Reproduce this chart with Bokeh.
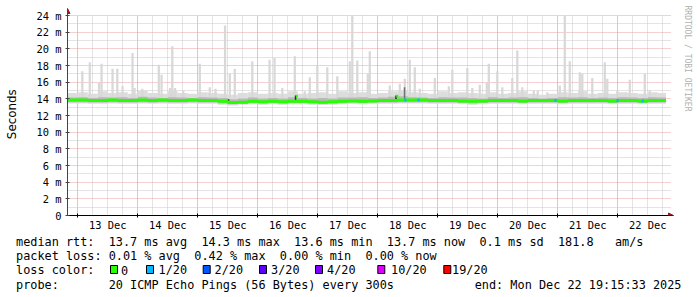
import numpy as np
import pandas as pd
from bokeh.plotting import figure
from bokeh.layouts import column
from bokeh.models import Range1d, FixedTicker, Label, Arrow, NormalHead, Grid
from bokeh.core.properties import value
from bokeh.embed import file_html
from bokeh.resources import INLINE

# ---------------- data (time in hours relative to 2025-12-13 00:00) ----------------
view_start_h = -4.12
view_end_h = 235.88
data_end_h = 235.26   # Mon Dec 22 19:15:33

bin_edges_h = [-4.12] + list(range(0, 233, 4)) + [data_end_h]

median_ms = [13.85, 13.85, 13.8, 13.8, 13.85, 13.8, 13.8, 13.85, 13.8, 13.85, 13.8, 13.8, 13.85, 13.8, 13.8,
             13.7, 13.55, 13.6,
             13.7, 13.65, 13.7, 13.65, 13.7, 13.7, 13.65, 13.6, 13.65, 13.7,
             13.75, 13.7, 13.75, 13.8, 13.8, 13.85,
             13.85, 13.85, 13.8, 13.8, 13.8,
             13.75, 13.7, 13.75,
             13.8, 13.8, 13.8, 13.75, 13.8, 13.8, 13.8, 13.75, 13.8, 13.8, 13.8, 13.8, 13.75, 13.8, 13.8, 13.75, 13.8, 13.8]

smoke_hi_ms = [14.7, 14.8, 14.6, 14.9, 14.7, 14.8, 14.6, 15.0, 14.7, 14.6, 14.9, 14.7, 14.6, 14.8, 14.7,
               14.6, 14.5, 14.7,
               14.8, 14.6, 14.7, 14.6, 14.9, 14.6, 14.7, 14.8, 14.6, 14.9,
               14.7, 14.8, 14.6, 14.7, 14.9, 15.0,
               14.8, 14.7, 14.6, 14.9, 14.7,
               14.8, 14.7, 14.6,
               14.8, 14.6, 14.7, 14.9, 14.6, 14.5, 14.6, 14.8, 14.7, 14.9, 14.6, 14.7, 14.6, 14.8, 14.7, 14.6, 14.8, 14.7]

smoke_lo_ms = [13.45, 13.45, 13.4, 13.4, 13.45, 13.4, 13.4, 13.45, 13.4, 13.45, 13.4, 13.4, 13.45, 13.4, 13.4,
               13.3, 13.2, 13.3,
               13.35, 13.3, 13.35, 13.3, 13.35, 13.35, 13.3, 13.25, 13.3, 13.35,
               13.4, 13.35, 13.4, 13.4, 13.4, 13.45,
               13.45, 13.45, 13.4, 13.4, 13.4,
               13.35, 13.3, 13.35,
               13.4, 13.4, 13.4, 13.35, 13.4, 13.4, 13.4, 13.35, 13.4, 13.4, 13.4, 13.4, 13.35, 13.4, 13.4, 13.35, 13.4, 13.4]

inner_hi_ms = [14.15, 14.2, 14.1, 14.2, 14.15, 14.2, 14.1, 14.25, 14.15, 14.1, 14.2, 14.15, 14.1, 14.2, 14.15,
               14.1, 13.95, 14.05,
               14.15, 14.05, 14.1, 14.05, 14.2, 14.1, 14.05, 14.1, 14.05, 14.15,
               14.15, 14.2, 14.1, 14.15, 14.25, 14.3,
               14.2, 14.15, 14.1, 14.2, 14.15,
               14.15, 14.1, 14.05,
               14.2, 14.1, 14.15, 14.2, 14.1, 14.05, 14.1, 14.2, 14.15, 14.2, 14.1, 14.15, 14.1, 14.2, 14.15, 14.1, 14.2, 14.15]

inner_lo_ms = [13.6, 13.6, 13.55, 13.55, 13.6, 13.55, 13.55, 13.6, 13.55, 13.6, 13.55, 13.55, 13.6, 13.55, 13.55,
               13.45, 13.35, 13.4,
               13.5, 13.45, 13.5, 13.45, 13.5, 13.5, 13.45, 13.4, 13.45, 13.5,
               13.55, 13.5, 13.55, 13.55, 13.55, 13.6,
               13.6, 13.6, 13.55, 13.55, 13.55,
               13.5, 13.45, 13.5,
               13.55, 13.55, 13.55, 13.5, 13.55, 13.55, 13.55, 13.5, 13.55, 13.55, 13.55, 13.55, 13.5, 13.55, 13.55, 13.5, 13.55, 13.55]

spike_h = [1.8, 4.8, 8.5, 9.5, 13.9, 15.8, 17.9, 21.9, 22.7, 25.8, 32.4, 33.5, 36.9, 37.8, 38.9, 42.2, 48.8,
           52.8, 55.1, 58.9, 60.8, 62.8, 69.8, 76.7, 78.7, 81.8, 86.8, 90.8, 92.8, 95.8, 99.8, 103.8,
           108.8, 109.8, 111.8, 116.0, 116.8, 124.8, 128.8, 130.8, 132.8, 134.8, 136.8, 142.8, 148.4,
           149.8, 155.8, 157.8, 160.8, 163.6, 164.4, 167.8, 169.8, 173.8, 175.8, 177.8, 182.4, 184.0,
           187.8, 192.8, 194.8, 196.8, 200.8, 201.8, 205.8, 210.8, 211.8, 215.8, 220.8, 226.8, 228.8]
spike_top_ms = [17.3, 18.4, 15.9, 18.2, 17.6, 17.6, 15.5, 19.5, 15.3, 15.2, 18.1, 16.9, 15.3, 20.3, 15.3, 15.0, 18.2,
                15.4, 15.2, 22.8, 17.0, 17.6, 18.5, 18.7, 18.9, 15.3, 19.1, 14.9, 16.6, 18.0, 17.8, 16.7,
                18.5, 24.0, 18.6, 17.0, 19.7, 15.6, 15.8, 16.4, 18.7, 17.8, 15.2, 16.5, 15.5,
                17.5, 17.7, 15.3, 15.7, 15.9, 18.2, 17.3, 15.4, 16.5, 19.8, 15.4, 15.0, 15.0,
                14.8, 15.6, 24.0, 18.5, 17.2, 17.0, 16.5, 18.4, 16.4, 15.0, 16.3, 17.0, 15.0]
spike_width_h = 0.9

dark_h = [60.3, 87.1, 127.3, 130.7]
dark_lo_ms = [13.5, 13.7, 13.7, 13.9]
dark_hi_ms = [13.95, 14.4, 14.4, 15.4]
dark_color = ["#222222", "#222222", "#222222", "#707070"]

blip_h = [87.6, 127.8]
blip_ms = [14.3, 14.3]

loss_h = [131.0, 136.3, 191.1, 215.9, 226.0]
loss_ms = [13.85, 13.85, 13.8, 13.8, 13.75]
loss_color = "#00b8ff"

day_labels = ["13 Dec", "14 Dec", "15 Dec", "16 Dec", "17 Dec", "18 Dec", "19 Dec", "20 Dec", "21 Dec", "22 Dec"]
y_ticks = [0, 2, 4, 6, 8, 10, 12, 14, 16, 18, 20, 22, 24]
y_tick_labels = ["0", "2 m", "4 m", "6 m", "8 m", "10 m", "12 m", "14 m", "16 m", "18 m", "20 m", "22 m", "24 m"]

loss_names = ["0", "1/20", "2/20", "3/20", "4/20", "10/20", "19/20"]
loss_colors = ["#26ff00", "#00b8ff", "#0059ff", "#5e00ff", "#7e00ff", "#dd00ff", "#ff0000"]

line1 = "median rtt:  13.7 ms avg  14.3 ms max  13.6 ms min  13.7 ms now  0.1 ms sd  181.8   am/s"
line2 = "packet loss: 0.01 % avg  0.42 % max  0.00 % min  0.00 % now"
line3 = "loss color:"
line4 = "probe:       20 ICMP Echo Pings (56 Bytes) every 300s"
line4_end = "end: Mon Dec 22 19:15:33 2025"
watermark = "RRDTOOL / TOBI OETIKER"
y_title = "Seconds"

# ---------------- layout geometry (pixels) ----------------
W = 697
MAIN_H = 233
LEG_H = 297 - MAIN_H
FL = 67            # frame left
FT = 5             # frame top
FB = 215           # frame bottom (0 ms)
PX_PER_MS = 200.0 / 24.0
PX_PER_H = 2.5

BASE_MS = pd.Timestamp("2025-12-13 00:00").value / 1e6
H_MS = 3600.0 * 1000.0


def ms(h):
    return BASE_MS + np.asarray(h, dtype=float) * H_MS


def px_to_h(px):
    return view_start_h + (px - FL) / PX_PER_H


def py_to_val(py):
    return (FB - py) / PX_PER_MS


def keep_spaces(s):
    # monospace layout: keep runs of spaces (SVG would collapse plain spaces)
    return s.replace(" ", "\u00a0")


x_lo = float(ms(view_start_h))
x_hi = float(ms(px_to_h(W)))
y_hi = py_to_val(FT)

edges = ms(bin_edges_h)
left = edges[:-1]
right = edges[1:]

p = figure(width=W, height=MAIN_H, x_axis_type="datetime",
           x_range=Range1d(x_lo, x_hi), y_range=Range1d(0, y_hi),
           output_backend="svg", toolbar_location=None,
           min_border_left=FL, min_border_right=0,
           min_border_top=FT, min_border_bottom=MAIN_H - FB)
p.background_fill_color = "white"
p.border_fill_color = "white"
p.outline_line_color = None

# ---------------- grid (limited to the graph area) ----------------
midnights = [float(ms(24 * d)) for d in range(0, 10)]
six_hours = [float(ms(6 * k)) for k in range(0, 40) if 6 * k <= view_end_h]
noons = [float(ms(24 * d + 12)) for d in range(0, 10)]
minor_y = list(range(1, 24, 2))
grid_right = float(ms(view_end_h)) + 1.0 * H_MS
MAJ_COL, MIN_COL = "#e8a0a0", "#c8c8c8"

if "cross_bounds" in Grid.properties():
    p.xgrid.ticker = FixedTicker(ticks=midnights, minor_ticks=six_hours)
    p.ygrid.ticker = FixedTicker(ticks=y_ticks[1:], minor_ticks=minor_y)
    p.xgrid.cross_bounds = (0, 24)
    p.ygrid.cross_bounds = (x_lo, grid_right)
    for g in (p.xgrid, p.ygrid):
        g.grid_line_color = MAJ_COL
        g.grid_line_dash = "1 1"
        g.minor_grid_line_color = MIN_COL
        g.minor_grid_line_dash = "1 1"
else:
    p.xgrid.visible = False
    p.ygrid.visible = False
    six_only = [t for t in six_hours if t not in midnights]
    p.segment(x0=six_only, x1=six_only, y0=0, y1=24, line_color=MIN_COL, line_dash="1 1")
    p.segment(x0=x_lo, x1=grid_right, y0=minor_y, y1=minor_y, line_color=MIN_COL, line_dash="1 1")
    p.segment(x0=midnights, x1=midnights, y0=0, y1=24, line_color=MAJ_COL, line_dash="1 1")
    p.segment(x0=x_lo, x1=grid_right, y0=y_ticks[1:], y1=y_ticks[1:], line_color=MAJ_COL, line_dash="1 1")

# ---------------- smoke ----------------
p.quad(left=left, right=right, bottom=smoke_lo_ms, top=smoke_hi_ms, fill_color="#dddddd", line_color=None)
sh = ms(spike_h)
p.quad(left=sh - spike_width_h * H_MS / 2, right=sh + spike_width_h * H_MS / 2,
       bottom=[14.0] * len(spike_h), top=spike_top_ms, fill_color="#d8d8d8", line_color=None)
p.quad(left=left, right=right, bottom=inner_lo_ms, top=inner_hi_ms, fill_color="#b9b9b9", line_color=None)
dh = ms(dark_h)
p.quad(left=dh - 0.3 * H_MS, right=dh + 0.3 * H_MS, bottom=dark_lo_ms, top=dark_hi_ms,
       fill_color=dark_color, line_color=None)

# ---------------- median line coloured by loss ----------------
p.step(x=edges, y=median_ms + [median_ms[-1]], mode="after", line_color="#26ff00", line_width=3)
bh = ms(blip_h)
p.segment(x0=bh - 0.4 * H_MS, x1=bh + 0.4 * H_MS, y0=blip_ms, y1=blip_ms, line_color="#26ff00", line_width=3)
lh = ms(loss_h)
p.segment(x0=lh - 0.4 * H_MS, x1=lh + 0.4 * H_MS, y0=loss_ms, y1=loss_ms, line_color=loss_color, line_width=3)

# ---------------- axes ----------------
mono = "DejaVu Sans Mono"
tip_x = float(ms(px_to_h(673)))
tip_y = py_to_val(8)

xa = p.xaxis[0]
xa.ticker = FixedTicker(ticks=noons, minor_ticks=midnights)
xa.major_label_overrides = {t: lab for t, lab in zip(noons, day_labels)}
xa.bounds = (float(ms(px_to_h(64))), tip_x)
xa.major_tick_line_color = None
xa.major_tick_in = 0
xa.major_tick_out = 0
xa.minor_tick_in = 2
xa.minor_tick_out = 2
xa.minor_tick_line_color = "black"
xa.axis_line_color = "black"
xa.major_label_text_font = mono
xa.major_label_text_font_size = "10.4px"
xa.major_label_text_color = "black"
xa.major_label_standoff = 1

ya = p.yaxis[0]
ya.ticker = FixedTicker(ticks=y_ticks)
ya.major_label_overrides = {t: lab for t, lab in zip(y_ticks, y_tick_labels)}
ya.bounds = (0, tip_y)
ya.major_tick_in = 2
ya.major_tick_out = 2
ya.minor_tick_line_color = None
ya.axis_line_color = "#444444"
ya.major_tick_line_color = "#444444"
ya.major_label_text_font = mono
ya.major_label_text_font_size = "10.4px"
ya.major_label_text_color = "black"
ya.major_label_standoff = 4
# two trailing no-break spaces nudge the centred, rotated title down to sit like the original
ya.axis_label = y_title + "\u00a0\u00a0"
ya.axis_label_text_font = "DejaVu Sans"
ya.axis_label_text_font_size = "11.85px"
ya.axis_label_text_font_style = "normal"
ya.axis_label_text_color = "black"
ya.axis_label_standoff = 14

# axis arrows
arrow_col = "#a0161a"
p.add_layout(Arrow(x_start=tip_x - 1.0 * H_MS, y_start=0, x_end=tip_x, y_end=0, line_alpha=0,
                   end=NormalHead(size=5, fill_color=arrow_col, line_color=arrow_col)))
p.add_layout(Arrow(x_start=x_lo, y_start=tip_y - 0.3, x_end=x_lo, y_end=tip_y, line_alpha=0,
                   end=NormalHead(size=5, fill_color=arrow_col, line_color=arrow_col)))

# watermark
p.add_layout(Label(x=float(ms(px_to_h(687))), y=py_to_val(5), text=watermark, angle=-np.pi / 2,
                   text_font=mono, text_font_size="8px", text_baseline="middle", text_align="left",
                   text_color="#b0b0b0"))

# ---------------- legend block (text rows under the graph) ----------------
q = figure(width=W, height=LEG_H, x_range=Range1d(0, W), y_range=Range1d(LEG_H, 0),
           output_backend="svg", toolbar_location=None,
           min_border_left=0, min_border_right=0, min_border_top=0, min_border_bottom=0,
           x_axis_location=None, y_axis_location=None)
q.outline_line_color = None
q.grid.visible = False
q.background_fill_color = "white"
q.border_fill_color = "white"
if "frame_align" in q.properties():
    q.frame_align = False
    p.frame_align = False

LF = value("11.85px")
rows = [r - MAIN_H for r in (241, 255.5, 269.5, 284)]
q.text(x=[15.5] * 4, y=rows, text=[keep_spaces(s) for s in (line1, line2, line3, line4)],
       text_font=value(mono), text_font_size=LF, text_baseline="middle", text_color="black")
q.text(x=[681], y=[rows[3]], text=[keep_spaces(line4_end)], text_font=value(mono), text_font_size=LF,
       text_baseline="middle", text_align="right", text_color="black")

box_left = [110, 146, 202.7, 259, 315, 377.3, 443.3]
text_left = [120.5, 158, 214, 270.5, 326.5, 390.5, 451.5]
q.quad(left=box_left, right=[b + 7 for b in box_left], top=[265 - MAIN_H] * 7, bottom=[273 - MAIN_H] * 7,
       fill_color=loss_colors, line_color="black", line_width=1)
q.text(x=text_left, y=[rows[2]] * 7, text=loss_names, text_font=value(mono), text_font_size=LF,
       text_baseline="middle", text_color="black")

layout = column(p, q, spacing=0)
open("out.html", "w").write(file_html(layout, INLINE))
